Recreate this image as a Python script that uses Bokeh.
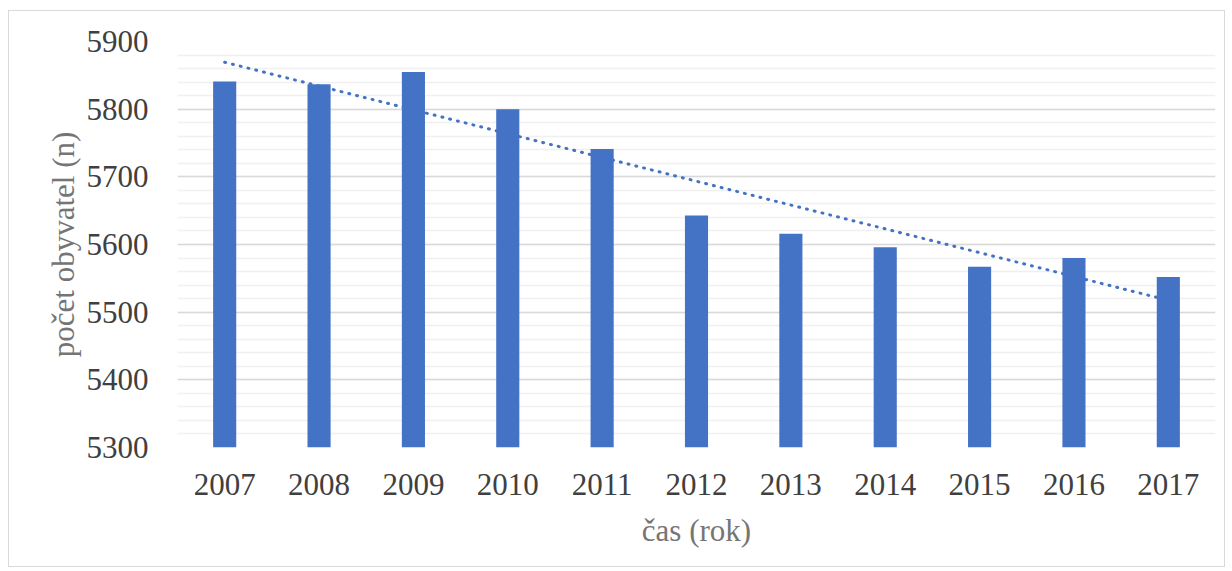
import numpy as np
from bokeh.plotting import figure
from bokeh.models import FactorRange, Range1d, SingleIntervalTicker, ColumnDataSource
from bokeh.embed import file_html
from bokeh.resources import INLINE

years = ["2007", "2008", "2009", "2010", "2011", "2012", "2013", "2014", "2015", "2016", "2017"]
population = [5841, 5837, 5855, 5800, 5741, 5643, 5616, 5596, 5567, 5580, 5552]
y_start, y_end = 5300, 5900

# linear trendline (least squares), as Excel computes it
idx = np.arange(len(years))
slope, intercept = np.polyfit(idx, population, 1)
trend = list(intercept + slope * idx)

FONT = "Liberation Serif"
BLUE = "#4472C4"

p = figure(
    x_range=FactorRange(*years), y_range=Range1d(y_start, y_end),
    width=1217, height=557, output_backend="svg", toolbar_location=None,
    min_border_left=168, min_border_right=11, min_border_top=30, min_border_bottom=121,
)
p.styles = {"border": "1px solid #d9d9d9", "margin-left": "8px", "margin-top": "10px"}
p.outline_line_color = None
p.background_fill_color = "white"
p.border_fill_color = "white"

src = ColumnDataSource(dict(year=years, pop=population, trend=trend))
p.vbar(x="year", top="pop", bottom=y_start, width=0.245, source=src,
       fill_color=BLUE, line_color=None)
p.line(x="year", y="trend", source=src, line_color=BLUE, line_width=3,
       line_dash="1 7", line_cap="round")

# axes
p.yaxis.ticker = SingleIntervalTicker(interval=100, num_minor_ticks=5)
p.ygrid.ticker = p.yaxis.ticker
p.ygrid.grid_line_color = "#d9d9d9"
p.ygrid.grid_line_width = 1.3
p.ygrid.minor_grid_line_color = "#f0f0f0"
p.ygrid.minor_grid_line_width = 1.3
p.xgrid.grid_line_color = None

for ax in (p.xaxis[0], p.yaxis[0]):
    ax.axis_line_color = None
    ax.major_tick_line_color = None
    ax.minor_tick_line_color = None
    ax.major_tick_out = 0
    ax.minor_tick_out = 0
    ax.major_label_text_font = FONT
    ax.major_label_text_font_size = "31px"
    ax.major_label_text_color = "#404040"
    ax.axis_label_text_font = FONT
    ax.axis_label_text_font_size = "31px"
    ax.axis_label_text_font_style = "normal"
    ax.axis_label_text_color = "#757575"

p.yaxis.axis_label = "počet obyvatel (n)"
p.xaxis.axis_label = "čas (rok)"
p.yaxis.major_label_standoff = 29
p.yaxis.axis_label_standoff = 3
p.xaxis.major_label_standoff = 26
p.xaxis.axis_label_standoff = 15

open("out.html", "w").write(file_html(p, INLINE))
